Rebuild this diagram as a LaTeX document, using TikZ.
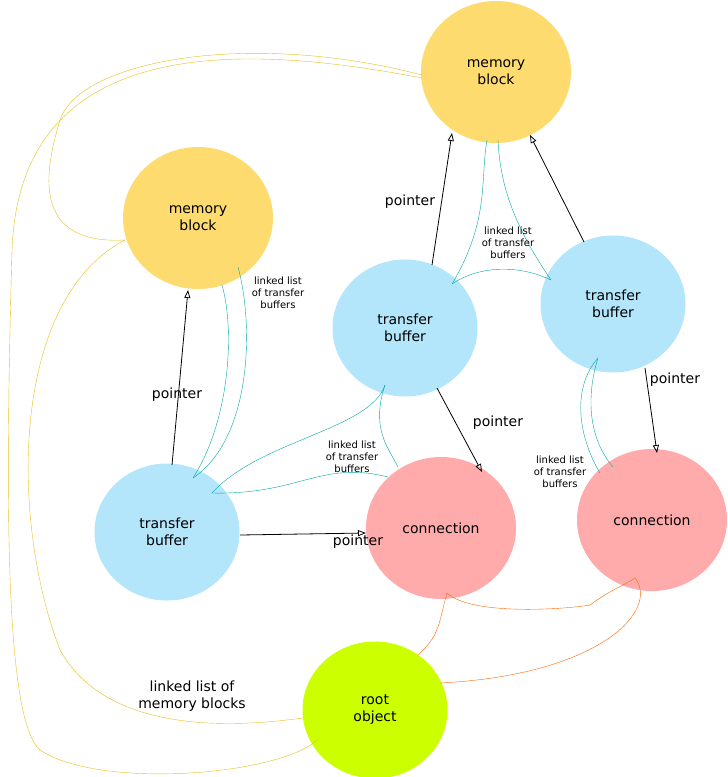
\documentclass[tikz,border=0pt]{standalone}
\usepackage{fontspec}
\setmainfont{DejaVu Sans}
\usetikzlibrary{arrows.meta}
\begin{document}
\begin{tikzpicture}[x=1pt,y=-1pt,
 ell/.style={ellipse,minimum width=150pt,minimum height=142pt,align=center,font=\fontsize{14}{17}\selectfont},
 mem/.style={ell,fill=yellow!55!orange!55},
 tb/.style={ell,fill=cyan!30,minimum width=145pt,minimum height=137pt},
 con/.style={ell,fill=red!33},
 root/.style={ell,fill=lime!80!yellow,minimum width=145pt,minimum height=137pt},
 ptr/.style={-{Triangle[open,length=8pt,width=6pt]},thick},
 lbl/.style={font=\fontsize{14}{17}\selectfont,align=center},
 sm/.style={font=\fontsize{10}{12}\selectfont,align=center},
 teal/.style={draw=teal!70!cyan},
 org/.style={draw=orange!80!red},
 gold/.style={draw=yellow!65!orange!90!black}]
\useasboundingbox (0,0) rectangle (728,777);
\usetikzlibrary{shapes.geometric}
\node[mem] (m1) at (496,72) {memory\\block};
\node[mem] (m2) at (198,218) {memory\\block};
\node[tb] (t1) at (405,328) {transfer\\buffer};
\node[tb] (t2) at (613,304) {transfer\\buffer};
\node[tb] (t3) at (167,532) {transfer\\buffer};
\node[con] (c1) at (441,528) {connection};
\node[con] (c2) at (652,520) {connection};
\node[root] (r) at (375,710) {root\\object};
% pointers
\draw[ptr] (172,465) coordinate (a1) -- (188,290) coordinate (b1);
\node[lbl] (p1) at (177,395) {pointer};
\draw[ptr] (432,265) -- (452,133);
\node[lbl] (p2) at (410,202) {pointer};
\draw[ptr] (584,242) -- (530,135);
\draw[ptr] (437,388) -- (482,472);
\node[lbl] (p3) at (498,423) {pointer};
\draw[ptr] (645,368) -- (657,453);
\node[lbl] (p4) at (675,380) {pointer};
\draw[ptr] (240,535) -- (366,533);
\node[lbl] (p5) at (358,542) {pointer};
% teal lists
\draw[teal] (193,478) .. controls (230,420) and (235,330) .. (222,285);
\draw[teal] (193,478) .. controls (250,440) and (255,330) .. (238,267);
\node[sm] (l1) at (278,293) {linked list\\of transfer\\buffers};
\draw[teal] (452,284) .. controls (490,220) and (480,180) .. (487,140);
\draw[teal] (551,280) .. controls (510,220) and (500,180) .. (498,140);
\draw[teal] (452,284) .. controls (480,265) and (520,265) .. (551,280);
\node[sm] (l2) at (508,243) {linked list\\of transfer\\buffers};
\draw[teal] (212,493) .. controls (260,440) and (370,430) .. (385,385);
\draw[teal] (385,385) .. controls (370,430) and (390,450) .. (398,467);
\draw[teal] (212,493) .. controls (300,495) and (320,460) .. (388,477);
\node[sm] (l3) at (352,457) {linked list\\of transfer\\buffers};
\draw[teal] (598,358) .. controls (570,390) and (580,440) .. (600,473);
\draw[teal] (598,358) .. controls (585,400) and (590,440) .. (613,467);
\node[sm] (l4) at (560,472) {linked list\\of transfer\\buffers};
% orange
\draw[org] (447,593) .. controls (470,615) and (560,610) .. (590,605) .. controls (610,590) and (625,585) .. (635,578);
\draw[org] (418,655) .. controls (440,635) and (438,625) .. (447,593);
\draw[org] (440,683) .. controls (600,675) and (660,610) .. (635,578);
% gold
\draw[gold] (422,75) .. controls (250,30) and (80,60) .. (60,120) .. controls (45,170) and (30,245) .. (125,240);
\draw[gold] (422,78) .. controls (250,45) and (20,30) .. (12,250) .. controls (5,500) and (5,720) .. (40,750) .. controls (100,790) and (280,775) .. (317,740);
\draw[gold] (125,240) .. controls (10,300) and (10,520) .. (60,650) .. controls (110,740) and (250,725) .. (303,718);
\node[lbl] (l5) at (192,696) {linked list of\\memory blocks};
\end{tikzpicture}
\end{document}
